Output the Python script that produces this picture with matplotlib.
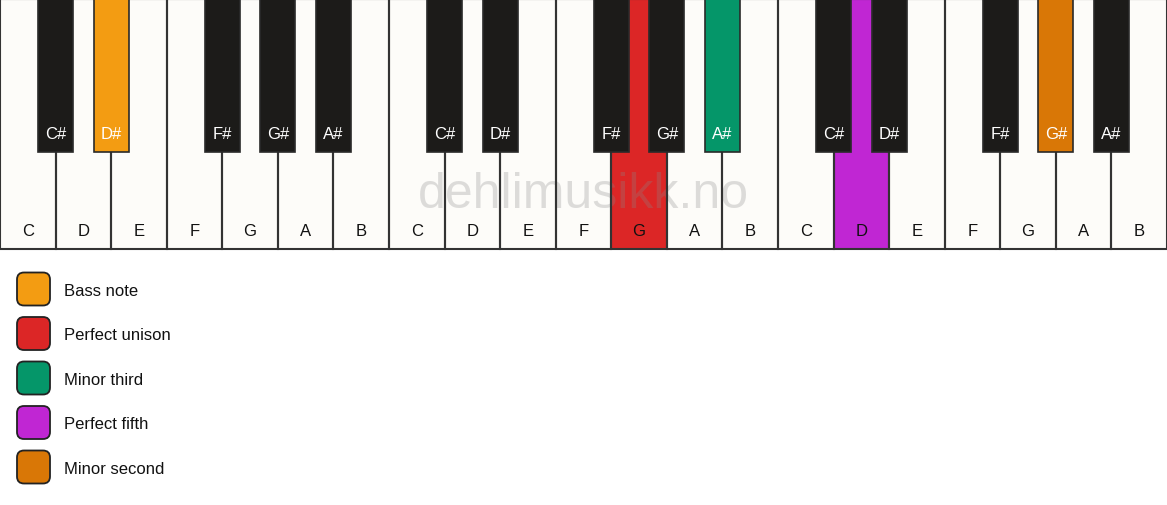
import matplotlib
matplotlib.use("Agg")
import matplotlib.pyplot as plt
from matplotlib.patches import Rectangle, FancyBboxPatch

plt.rcParams['font.family'] = ['Liberation Sans', 'DejaVu Sans']

# keyboard content: three octaves, C to B
octaves = 3
white_names = ["C", "D", "E", "F", "G", "A", "B"]
# black key name and the index of the white key it sits after
black_names = ["C#", "D#", "F#", "G#", "A#"]
black_after = [0, 1, 3, 4, 5]

# highlighted keys: (octave, note name) -> interval
highlights = {
    (0, "D#"): "Bass note",
    (1, "G"): "Perfect unison",
    (1, "A#"): "Minor third",
    (2, "D"): "Perfect fifth",
    (2, "G#"): "Minor second",
}
legend_labels = ["Bass note", "Perfect unison", "Minor third", "Perfect fifth", "Minor second"]
legend_colors = ["#F39C12", "#DC2626", "#059669", "#C026D3", "#D97706"]
color_of = dict(zip(legend_labels, legend_colors))

W, H = 1167, 506
fig = plt.figure(figsize=(W / 100, H / 100), dpi=100)
ax = fig.add_axes([0, 0, 1, 1])
ax.set_xlim(0, W)
ax.set_ylim(H, 0)
ax.axis("off")

n_white = 7 * octaves
ww = W / n_white
wh = 250
bw = 35
bh = 153
edge = "#333333"

# white keys: fill, then watermark, then outlines on top
for o in range(octaves):
    for i, name in enumerate(white_names):
        x = (o * 7 + i) * ww
        fc = "#FDFCF9"
        if (o, name) in highlights:
            fc = color_of[highlights[(o, name)]]
        ax.add_patch(Rectangle((x, 0), ww, wh, facecolor=fc, edgecolor="none", zorder=1))
        ax.add_patch(Rectangle((x, 0), ww, wh, facecolor="none", edgecolor=edge, lw=1.5, zorder=2.5))
        ax.text(x + ww / 2, 231, name, ha="center", va="center", fontsize=12,
                color="#111111", zorder=5)

# watermark
ax.text(583, 195, "dehlimusikk.no", ha="center", va="center", fontsize=36,
        color="#888888", alpha=0.28, zorder=2)

# black keys
for o in range(octaves):
    for name, after in zip(black_names, black_after):
        cx = (o * 7 + after + 1) * ww
        fc = "#1C1B19"
        if (o, name) in highlights:
            fc = color_of[highlights[(o, name)]]
        ax.add_patch(Rectangle((cx - bw / 2, -2), bw, bh + 2, facecolor=fc,
                               edgecolor="#2a2a2a", lw=1.2, zorder=3))
        ax.text(cx, 134, name, ha="center", va="center", fontsize=12,
                color="white", zorder=5)

# legend
for k, (lab, col) in enumerate(zip(legend_labels, legend_colors)):
    cy = 290 + k * 44.5
    ax.add_patch(FancyBboxPatch((20, cy - 13.5), 27, 27, boxstyle="round,pad=3,rounding_size=7",
                                facecolor=col, edgecolor="#222222", lw=1.3, zorder=3))
    ax.text(64, cy + 1.5, lab, ha="left", va="center", fontsize=12, color="#111111")

fig.savefig("out.png", dpi=100, facecolor="white")
